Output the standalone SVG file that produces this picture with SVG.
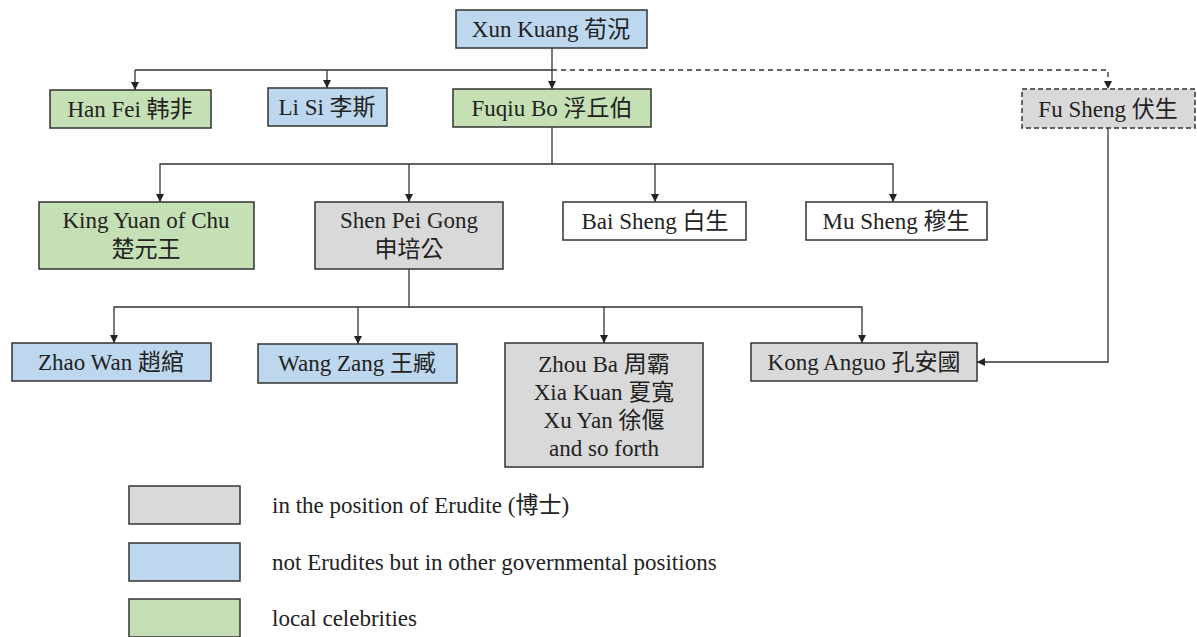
<svg xmlns="http://www.w3.org/2000/svg" width="1197" height="637" viewBox="0 0 1197 637">
<style>
.n rect{stroke:#333;stroke-width:1.5}
.blue{fill:#bdd7ee}
.green{fill:#c5e0b4}
.gray{fill:#d9d9d9}
.white{fill:#fff}
text{font-family:"Liberation Serif","Noto Sans CJK TC",serif;font-size:23px;fill:#222;text-anchor:middle}
.lg{text-anchor:start;font-size:23px}
.c path{fill:none;stroke:#333;stroke-width:1.3}
</style>
<defs>
<marker id="ah" markerWidth="10" markerHeight="10" refX="8" refY="5" orient="auto" markerUnits="userSpaceOnUse">
<path d="M0,1 L8,5 L0,9 Z" fill="#222"/>
</marker>
</defs>
<rect width="1197" height="637" fill="#fff"/>
<g class="c">
<path d="M552,48 V89" marker-end="url(#ah)"/>
<path d="M135,70 H552 M135,70 V90" marker-end="url(#ah)"/>
<path d="M327,70 V88" marker-end="url(#ah)"/>
<path d="M552,70 H1108 V89" stroke-dasharray="5,4" marker-end="url(#ah)"/>
<path d="M552,127 V164 H160 V202" marker-end="url(#ah)"/>
<path d="M409,164 V202" marker-end="url(#ah)"/>
<path d="M552,164 H655 V202" marker-end="url(#ah)"/>
<path d="M655,164 H893 V202" marker-end="url(#ah)"/>
<path d="M409,269 V307 H114 V343" marker-end="url(#ah)"/>
<path d="M358,307 V344" marker-end="url(#ah)"/>
<path d="M409,307 H604 V343" marker-end="url(#ah)"/>
<path d="M604,307 H862 V343" marker-end="url(#ah)"/>
<path d="M1108,128 V362 H977" marker-end="url(#ah)"/>
</g>
<g id="xunkuang" class="n"><rect class="blue" x="456" y="10" width="191" height="38"/><text x="551" y="37">Xun Kuang 荀況</text></g>
<g id="hanfei" class="n"><rect class="green" x="50" y="90" width="161" height="38"/><text x="130" y="117">Han Fei 韩非</text></g>
<g id="lisi" class="n"><rect class="blue" x="268" y="88" width="119" height="38"/><text x="327" y="115">Li Si 李斯</text></g>
<g id="fuqiubo" class="n"><rect class="green" x="453" y="89" width="198" height="38"/><text x="552" y="116">Fuqiu Bo 浮丘伯</text></g>
<g id="fusheng" class="n"><rect class="gray" x="1022" y="89" width="173" height="39" stroke-dasharray="5,3"/><text x="1108" y="117">Fu Sheng 伏生</text></g>
<g id="kingyuan" class="n"><rect class="green" x="39" y="202" width="215" height="67"/><text x="146" y="228">King Yuan of Chu</text><text x="146" y="257">楚元王</text></g>
<g id="shenpeigong" class="n"><rect class="gray" x="315" y="202" width="188" height="67"/><text x="409" y="228">Shen Pei Gong</text><text x="409" y="257">申培公</text></g>
<g id="baisheng" class="n"><rect class="white" x="563" y="202" width="183" height="38"/><text x="655" y="229">Bai Sheng 白生</text></g>
<g id="musheng" class="n"><rect class="white" x="806" y="202" width="181" height="38"/><text x="896" y="229">Mu Sheng 穆生</text></g>
<g id="zhaowan" class="n"><rect class="blue" x="12" y="343" width="199" height="38"/><text x="111" y="370">Zhao Wan 趙綰</text></g>
<g id="wangzang" class="n"><rect class="blue" x="258" y="344" width="199" height="39"/><text x="357" y="371">Wang Zang 王臧</text></g>
<g id="zhouba" class="n"><rect class="gray" x="505" y="343" width="198" height="124"/><text x="604" y="372">Zhou Ba 周霸</text><text x="604" y="400">Xia Kuan 夏寬</text><text x="604" y="428">Xu Yan 徐偃</text><text x="604" y="456">and so forth</text></g>
<g id="konganguo" class="n"><rect class="gray" x="751" y="343" width="226" height="38"/><text x="864" y="370">Kong Anguo 孔安國</text></g>
<g id="legend" class="n">
<rect class="gray" x="129" y="486" width="111" height="38"/><text class="lg" x="272" y="513">in the position of Erudite (博士)</text>
<rect class="blue" x="129" y="543" width="111" height="38"/><text class="lg" x="272" y="570">not Erudites but in other governmental positions</text>
<rect class="green" x="129" y="599" width="111" height="38"/><text class="lg" x="272" y="626">local celebrities</text>
</g>
</svg>
